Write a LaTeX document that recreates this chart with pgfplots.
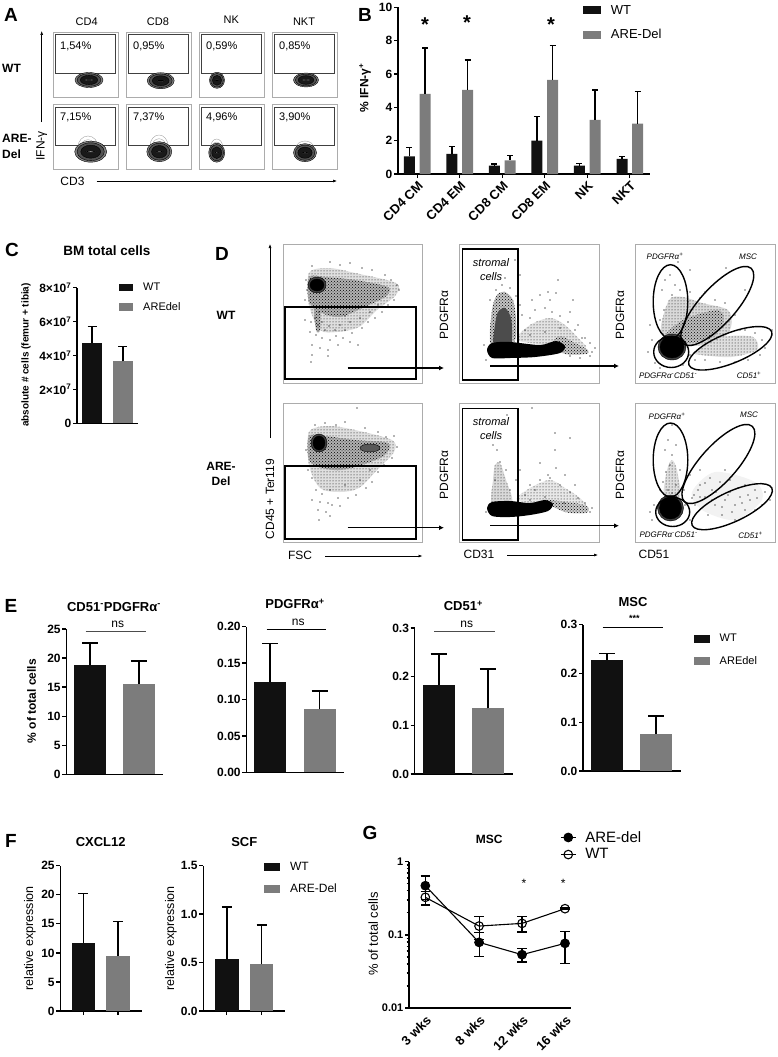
\documentclass[border=0pt]{standalone}
\usepackage{fontspec}
\setmainfont{Liberation Sans}
\usepackage{pgfplots}
\pgfplotsset{compat=1.18}
\usetikzlibrary{arrows.meta,patterns}
\definecolor{wtc}{HTML}{111111}
\definecolor{arec}{HTML}{7C7C7C}
\def\fs#1{\fontsize{#1}{#1}\selectfont}
\newcommand\T[4][]{\node[inner sep=0pt,#1] at (#2pt,-#3pt) {#4};}
\pgfplotsset{
 base/.style={scale only axis,axis lines=left,axis line style={-,line width=1.3pt,black},
  tick style={black,line width=1.3pt},major tick length=4pt,tick align=outside,clip=false,
  scaled y ticks=false,
  ticklabel style={font=\bfseries\fs{12},inner sep=1.5pt},xtick=\empty,
  ybar,/pgf/bar shift=0pt,anchor=south west},
 wt/.style={fill=wtc,draw=none,/pgf/bar shift=0pt},
 are/.style={fill=arec,draw=none,/pgf/bar shift=0pt},
 ebar/.style 2 args={error bars/y dir=plus,error bars/y explicit,
  error bars/error bar style={line width=#1,black},
  error bars/error mark options={black,rotate=90,mark size=#2,line width=#1}},
 sw/.style 2 args={legend image code/.code={\fill[##1] (0pt,-#2) rectangle (#1,#2);}},
 lg/.style={legend cell align=left,legend style={draw=none,fill=none,anchor=north west,inner sep=0pt,outer sep=0pt,column sep=8pt,cells={anchor=west}}},
 flowst/.style={x=1pt,y=1pt,y dir=reverse,xtick=\empty,ytick=\empty,anchor=south west,
  axis line style={draw=gray!65,line width=.8pt},clip=true},
 dots/.style={only marks,mark=*,mark size=.42,mark options={fill=black,draw=none}},
}
\newcommand\FA[4]{\begin{axis}[flowst,at={(#1pt,-#4pt)},xmin=#1,xmax=#3,ymin=#2,ymax=#4]}
\newcommand\lay[6]{\addplot[only marks,mark=*,mark size={#4*#5},mark options={xscale={#3/#4},fill=#6,draw=none}] coordinates {(#1,#2)};}
\newcommand\blob[4]{%
 \lay{#1}{#2}{#3}{#4}{1}{black!50}%
 \lay{#1}{#2}{#3}{#4}{.85}{black!68}%
 \lay{#1}{#2}{#3}{#4}{.62}{black!90}%
 \addplot[only marks,mark=*,mark size={#4*.05},mark options={xscale={6*#3/#4},fill=white,draw=none}] coordinates {(#1,#2)};}
\newcommand\tip[4]{%
 \addplot[only marks,mark=o,mark size=#4,mark options={xscale={#3/#4},draw=gray!80,line width=.35pt}] coordinates {(#1,#2)};
 \addplot[only marks,mark=o,mark size={#4*.8},mark options={xscale={#3/#4},draw=gray!80,line width=.35pt}] coordinates {(#1,#2+1.5)};
 \addplot[only marks,mark=o,mark size={#4*.62},mark options={xscale={#3/#4},draw=gray!80,line width=.35pt}] coordinates {(#1,#2+3)};}
\newcommand\gate[5]{\addplot[only marks,mark=o,mark size=#4,mark options={draw=black,line width=1.4pt,rotate=#5,xscale={#3/#4}}] coordinates {(#1,#2)};}
\newcommand\rgate[4]{\addplot[draw=black,line width=1.5pt,mark=none] coordinates {(#1,#2)(#3,#2)(#3,#4)(#1,#4)} --cycle;}
\newcommand\thin[4]{\addplot[draw=black!75,line width=.7pt,mark=none] coordinates {(#1,#2)(#3,#2)(#3,#4)(#1,#4)} --cycle;}
\newcommand\reg[3][crosshatch dots]{\addplot[fill=#2,draw=none,smooth cycle,mark=none] coordinates {#3};
 \addplot[pattern=#1,pattern color=black,draw=none,smooth cycle,mark=none] coordinates {#3};}
\newcommand\sol[2]{\addplot[fill=#1,draw=none,smooth cycle,mark=none] coordinates {#2};}
\begin{document}
\begin{tikzpicture}[x=1pt,y=1pt]
\path[use as bounding box] (0pt,0pt) rectangle (777pt,-1057pt);
%%%% Panel letters
\T[font=\bfseries\fs{19}]{11}{15}{A}
\T[font=\bfseries\fs{19}]{365}{15}{B}
\T[font=\bfseries\fs{19}]{12}{250}{C}
\T[font=\bfseries\fs{19}]{222}{254}{D}
\T[font=\bfseries\fs{19}]{11}{606}{E}
\T[font=\bfseries\fs{19}]{11}{841}{F}
\T[font=\bfseries\fs{19}]{370}{833}{G}
%%%% Panel A
\T[font=\fs{11}]{86.7}{21.7}{CD4}\T[font=\fs{11}]{158}{21.7}{CD8}\T[font=\fs{11}]{231.3}{20}{NK}\T[font=\fs{11}]{304}{21.7}{NKT}
\T[font=\bfseries\fs{12},anchor=west]{2}{68}{WT}
\T[font=\bfseries\fs{12},anchor=west]{2}{138.5}{ARE-}
\T[font=\bfseries\fs{12},anchor=west]{2}{154.5}{Del}
\T[font=\fs{12},rotate=90]{41.7}{146}{IFN-γ}
\draw[-{Latex[length=4pt,width=3pt]},line width=.6pt] (41.7pt,-122pt) -- (41.7pt,-31pt);
\T[font=\fs{12}]{72.5}{181}{CD3}
\draw[-{Latex[length=4pt,width=3pt]},line width=.6pt] (96.7pt,-181pt) -- (337pt,-181pt);
% WT row
\FA{53.7}{32}{118.3}{97}\thin{55.7}{34.3}{115.7}{73.3}\blob{89}{80}{14}{7.5}\end{axis}
\FA{126.7}{32}{191.3}{97}\thin{128.7}{34.3}{188.7}{73.3}\blob{160.7}{80.7}{13.5}{8}\end{axis}
\FA{199.3}{32}{264.3}{97}\thin{201.3}{34.3}{261.3}{73.3}\blob{217}{80.3}{7.5}{8}\end{axis}
\FA{272.3}{32}{337.3}{97}\thin{274.3}{34.3}{334.3}{73.3}\blob{306}{80}{12.5}{7}\end{axis}
% ARE row
\FA{53.7}{104.7}{118.3}{169.7}\thin{55.7}{107}{115.7}{145.7}\tip{88}{147}{10}{11}\blob{90.7}{151.7}{16}{10.5}\end{axis}
\FA{126.7}{104.7}{191.3}{169.7}\thin{128.7}{107}{188.7}{145.7}\tip{159}{146}{9}{11}\blob{159.3}{151.7}{12.5}{10}\end{axis}
\FA{199.3}{104.7}{264.3}{169.7}\thin{201.3}{107}{261.3}{145.7}\tip{216.7}{147}{6}{8}\blob{216.7}{152.7}{8}{9.5}\end{axis}
\FA{272.3}{104.7}{337.3}{169.7}\thin{274.3}{107}{334.3}{145.7}\tip{305}{148}{9}{7}\blob{305}{152.7}{11.5}{9}\end{axis}
\T[font=\fs{11},anchor=west]{60}{46}{1,54\%}\T[font=\fs{11},anchor=west]{133}{46}{0,95\%}\T[font=\fs{11},anchor=west]{206}{46}{0,59\%}\T[font=\fs{11},anchor=west]{279}{46}{0,85\%}
\T[font=\fs{11},anchor=west]{60}{117.7}{7,15\%}\T[font=\fs{11},anchor=west]{133}{117.7}{7,37\%}\T[font=\fs{11},anchor=west]{206}{117.7}{4,96\%}\T[font=\fs{11},anchor=west]{279}{117}{3,90\%}
%%%% Panel B
\begin{axis}[base,at={(398pt,-174pt)},width=252pt,height=166.7pt,xmin=-0.454,xmax=5.475,ymin=0,ymax=10,
 xtick={0,1,2,3,4,5},xticklabels={CD4 CM,CD4 EM,CD8 CM,CD8 EM,NK,NKT},
 xticklabel style={rotate=45,anchor=north east,font=\bfseries\fs{13}},
 ytick={0,2,4,6,8,10},yticklabels={0,2,4,6,8,10},bar width=11pt,
 lg,legend style={at={(0.734,1.025)},row sep=10pt,font=\fs{13}},sw={18pt}{4pt}]
\addplot[wt,ebar={1.4pt}{3pt}] coordinates {(-0.184,1.05)+-(0,0.55)(0.816,1.2)+-(0,0.45)(1.816,0.5)+-(0,0.1)(2.816,2.0)+-(0,1.45)(3.816,0.5)+-(0,0.12)(4.816,0.9)+-(0,0.15)};
\addplot[are,ebar={1.4pt}{3pt}] coordinates {(0.184,4.8)+-(0,2.75)(1.184,5.05)+-(0,1.8)(2.184,0.82)+-(0,0.28)(3.184,5.65)+-(0,2.05)(4.184,3.25)+-(0,1.8)(5.184,3.02)+-(0,1.93)};
\legend{WT,ARE-Del}
\end{axis}
\T[font=\bfseries\fs{12},rotate=90]{365}{88}{\% IFN-γ\textsuperscript{+}}
\T[font=\bfseries\fs{20}]{425}{25}{*}\T[font=\bfseries\fs{20}]{467}{23}{*}\T[font=\bfseries\fs{20}]{551}{25}{*}
%%%% Panel C
\begin{axis}[base,at={(77pt,-423.3pt)},width=61.3pt,height=135.6pt,xmin=-0.484,xmax=1.494,ymin=0,ymax=8e7,
 ytick={0,2e7,4e7,6e7,8e7},yticklabels={0,2×10\textsuperscript{7},4×10\textsuperscript{7},6×10\textsuperscript{7},8×10\textsuperscript{7}},bar width=20.6pt,
 lg,legend style={at={(0.679,1.05)},row sep=6.5pt,font=\fs{11}},sw={14.6pt}{3.8pt}]
\addplot[wt,ebar={1.4pt}{4.5pt}] coordinates {(0,4.72e7)+-(0,1.0e7)};
\addplot[are,ebar={1.4pt}{4.5pt}] coordinates {(1,3.66e7)+-(0,0.88e7)};
\legend{WT,AREdel}
\end{axis}
\T[font=\bfseries\fs{13.5}]{107}{251}{BM total cells}
\T[font=\bfseries\fs{10},rotate=90]{26}{355}{absolute \# cells (femur + tibia)}
%%%% Panel D labels
\T[font=\bfseries\fs{12}]{226}{315}{WT}\T[font=\bfseries\fs{12}]{221}{466}{ARE-}\T[font=\bfseries\fs{12}]{221}{481}{Del}
\draw[-{Latex[length=4pt,width=3pt]},line width=.6pt] (270pt,-438pt) -- (270pt,-244pt);
\T[font=\fs{12},rotate=90]{270}{499}{CD45 + Ter119}
\T[font=\fs{12}]{300}{555}{FSC}\draw[-{Latex[length=4pt,width=3pt]},line width=.6pt] (325pt,-556pt) -- (422.5pt,-556pt);
\T[font=\fs{12}]{479}{554}{CD31}\draw[-{Latex[length=4pt,width=3pt]},line width=.6pt] (507pt,-555pt) -- (598pt,-555pt);
\T[font=\fs{12}]{654}{554}{CD51}
\T[font=\fs{12},rotate=90]{444}{315}{PDGFRα}\T[font=\fs{12},rotate=90]{444}{475}{PDGFRα}
\T[font=\fs{12},rotate=90]{620}{315}{PDGFRα}\T[font=\fs{12},rotate=90]{620}{475}{PDGFRα}
%%%% D col1 row1
\FA{283}{244}{422.5}{383}
\reg[dots]{gray!25}{(309,273)(329,268)(355,273)(396,283)(396,295)(377,310)(359,327)(337,332)(320,330)(309,305)}
\reg{gray!60}{(309,277)(325,277)(355,280)(388,287)(385,297)(362,308)(340,317)(322,313)(309,302)}
\reg{gray!60}{(314,305)(320,305)(320,330)(316,330)}
\lay{317}{285}{9}{8}{1}{black!75}\lay{317}{285}{7}{6}{1}{black}
\addplot[dots] coordinates {(312,266)(330,262)(340,265)(350,263)(362,268)(372,270)(385,275)(391,280)(397,285)(399,290)(394,300)(388,305)(382,312)(375,318)(368,322)(362,328)(352,333)(345,330)(336,336)(330,340)(322,338)(316,335)(310,332)(312,345)(320,348)(328,350)(338,345)(350,342)(358,345)(305,320)(311,322)(318,325)(315,318)(319,312)(322,322)(325,330)(340,325)(350,322)(360,318)(370,312)(378,305)(305,300)(307,290)(306,280)(312,355)(311,362)(328,356)(343,338)(335,330)(329,326)(345,316)};
\rgate{285}{307}{416}{379}
\end{axis}
%%%% D col1 row2
\FA{283}{403}{422.5}{542}
\reg[dots]{gray!25}{(309,432)(329,426)(355,430)(392,440)(394,452)(377,470)(359,488)(340,492)(320,488)(309,465)}
\reg{gray!60}{(309,436)(325,436)(355,440)(388,443)(385,455)(362,465)(340,470)(322,468)(309,460)}
\lay{319}{443}{8}{9}{1}{black!75}\lay{319}{443}{6}{7}{1}{black}
\lay{370}{448}{10}{4}{1}{black!65}
\addplot[dots] coordinates {(315,425)(325,423)(336,425)(345,422)(357,408)(365,428)(378,432)(386,437)(394,436)(397,447)(392,458)(384,465)(378,472)(372,482)(366,488)(356,495)(348,498)(338,498)(328,503)(320,502)(318,510)(326,512)(332,505)(312,478)(316,490)(322,494)(330,490)(345,485)(360,480)(370,470)(306,450)(308,470)(312,500)(330,516)(319,520)(340,506)};
\rgate{285}{466}{416}{539}
\end{axis}
%%%% D col2 row1
\FA{459.4}{244}{599.3}{383}
\reg[dots]{gray!22}{(517,340)(530,325)(550,318)(565,325)(580,340)(585,348)(550,345)}
\reg{gray!45}{(552,345)(560,336)(575,343)(588,350)(586,354)(565,354)}
\reg{gray!45}{(491,345)(492,310)(497,295)(505,292)(513,300)(516,320)(514,342)}
\sol{black!70}{(494,345)(495,325)(498,312)(505,308)(511,318)(512,335)(510,344)}
\sol{black}{(487,350)(492,343)(510,342)(540,345)(556,341)(565,346)(560,353)(535,357)(510,358)(492,358)}
\addplot[dots] coordinates {(502,285)(496,290)(510,288)(516,296)(520,305)(522,315)(490,300)(525,330)(530,318)(535,310)(545,308)(552,312)(560,316)(568,322)(575,330)(582,338)(590,343)(595,348)(592,352)(585,338)(578,325)(570,312)(550,300)(540,295)(556,293)(558,280)(548,292)(532,300)(520,275)(515,260)(505,278)(573,300)(560,328)(545,332)(530,335)(590,356)(580,358)(570,356)(484,345)(486,360)};
\rgate{462.7}{249}{518}{380}
\end{axis}
%%%% D col2 row2
\FA{459.4}{403}{599.3}{542}
\reg[dots]{gray!18}{(517,500)(530,488)(550,480)(565,488)(580,498)(585,507)(550,505)}
\reg[dots]{gray!30}{(492,505)(493,480)(495,465)(500,463)(506,480)(512,502)}
\reg{gray!40}{(543,500)(575,503)(588,507)(586,513)(565,512)}
\sol{black}{(487,508)(492,502)(510,501)(530,503)(545,500)(553,504)(548,511)(530,515)(510,517)(492,516)}
\addplot[dots] coordinates {(500,462)(497,450)(493,445)(506,470)(510,490)(495,480)(516,480)(525,495)(530,485)(540,480)(550,478)(560,485)(570,492)(578,498)(585,503)(592,508)(590,512)(575,485)(565,475)(556,468)(548,475)(535,490)(520,470)(555,450)(570,438)(540,463)(564,503)(545,497)(530,500)(486,512)(507,415)(532,408)(555,433)};
\rgate{462.7}{408.7}{518}{540}
\end{axis}
%%%% D col3 row1
\FA{635.4}{244}{775}{383}
\reg[dots]{gray!30}{(661,333)(669,300)(683,297)(702,303)(728,310)(731,327)(717,343)(683,345)}
\reg[dots]{gray!25}{(694,352)(724,337)(753,337)(757,350)(731,357)(702,355)}
\reg{gray!50}{(665,337)(683,320)(717,310)(724,320)(713,337)(687,343)}
\lay{672}{347}{14}{13}{1}{black!75}\lay{672}{347}{12}{11}{1}{black}
\addplot[dots] coordinates {(662,290)(665,280)(670,275)(675,285)(672,295)(680,290)(690,292)(700,298)(705,292)(715,300)(725,303)(735,315)(740,330)(745,330)(755,333)(762,340)(765,348)(760,355)(748,360)(735,362)(720,362)(705,360)(695,360)(652,340)(648,352)(655,363)(660,368)(683,365)(690,355)(692,345)(660,320)(664,310)(678,262)(726,268)(690,270)(745,290)(668,340)(772,330)(650,325)};
\gate{670.5}{301.7}{17.3}{37}{0}
\gate{717.3}{306}{50.7}{18}{48}
\gate{730.3}{348.3}{44.6}{15}{22}
\gate{671.2}{352}{17.5}{15.5}{0}
\end{axis}
%%%% D col3 row2
\FA{635.4}{403}{775}{542}
\reg[dots]{gray!25}{(664,497)(667,470)(672,460)(677,470)(680,497)}
\sol{gray!10}{(692,492)(715,472)(755,482)(762,500)(735,520)(702,510)}
\lay{670.5}{508}{13}{13}{1}{black!75}\lay{670.5}{508}{11}{11}{1}{black}
\addplot[dots] coordinates {(668,440)(665,450)(672,455)(676,445)(670,465)(666,472)(680,470)(663,482)(676,485)(684,490)(694,495)(700,485)(710,478)(720,482)(730,480)(745,485)(755,490)(765,492)(770,500)(762,505)(750,500)(745,510)(735,505)(725,500)(715,505)(705,497)(695,505)(685,505)(708,515)(722,515)(735,520)(690,475)(700,470)(654,505)(650,512)(652,520)(690,520)(672,425)(725,470)(740,497)(755,510)(712,490)(730,492)(700,497)(665,497)(672,493)(668,490)(660,490)(705,483)(716,492)(738,488)(748,495)(722,507)(732,512)(742,503)(698,490)(692,498)(757,498)(728,495)(712,500)};
\gate{670.5}{460}{17.3}{37}{0}
\gate{718.4}{464}{50.7}{18}{48}
\gate{732}{506.7}{44}{15}{25}
\gate{672.7}{512}{17}{14.5}{0}
\end{axis}
% D arrows and texts
\draw[-{Latex[length=5pt,width=5pt]},line width=1.3pt] (347.6pt,-368pt) -- (444pt,-368pt);
\draw[-{Latex[length=5pt,width=5pt]},line width=1.3pt] (347.6pt,-527.7pt) -- (444pt,-527.7pt);
\draw[-{Latex[length=5pt,width=5pt]},line width=1.3pt] (490pt,-366pt) -- (619pt,-366pt);
\draw[-{Latex[length=5pt,width=5pt]},line width=1.3pt] (490pt,-525.7pt) -- (619pt,-525.7pt);
\T[font=\itshape\fs{11}]{491}{262.7}{stromal}\T[font=\itshape\fs{11}]{491}{276.7}{cells}
\T[font=\itshape\fs{11}]{491}{422}{stromal}\T[font=\itshape\fs{11}]{491}{436}{cells}
\T[font=\itshape\fs{8}]{665}{256.7}{PDGFRα\textsuperscript{+}}\T[font=\itshape\fs{8}]{748}{256.7}{MSC}
\T[font=\itshape\fs{8}]{668}{376}{PDGFRα\textsuperscript{-}CD51\textsuperscript{-}}\T[font=\itshape\fs{8}]{749}{375}{CD51\textsuperscript{+}}
\T[font=\itshape\fs{8}]{667}{416}{PDGFRα\textsuperscript{+}}\T[font=\itshape\fs{8}]{749}{415}{MSC}
\T[font=\itshape\fs{8}]{668.6}{535}{PDGFRα\textsuperscript{-}CD51\textsuperscript{-}}\T[font=\itshape\fs{8}]{750.5}{535}{CD51\textsuperscript{+}}
%%%% Panel E
\begin{axis}[base,at={(66.3pt,-774.3pt)},width=97pt,height=145.3pt,xmin=-0.486,xmax=1.502,ymin=0,ymax=25,
 ytick={0,5,10,15,20,25},yticklabels={0,5,10,15,20,25},bar width=32pt]
\addplot[wt,ebar={1.8pt}{8pt}] coordinates {(0,18.87)+-(0,3.78)};
\addplot[are,ebar={1.8pt}{8pt}] coordinates {(1,15.6)+-(0,3.95)};
\end{axis}
\begin{axis}[base,at={(246.3pt,-772.3pt)},width=98pt,height=145.6pt,xmin=-0.486,xmax=1.502,ymin=0,ymax=0.2,
 ytick={0,0.05,0.1,0.15,0.2},yticklabels={0.00,0.05,0.10,0.15,0.20},bar width=32pt]
\addplot[wt,ebar={1.8pt}{8pt}] coordinates {(0,0.1245)+-(0,0.0525)};
\addplot[are,ebar={1.8pt}{8pt}] coordinates {(1,0.0865)+-(0,0.0255)};
\end{axis}
\begin{axis}[base,at={(414.7pt,-774pt)},width=98pt,height=146pt,xmin=-0.486,xmax=1.502,ymin=0,ymax=0.3,
 ytick={0,0.1,0.2,0.3},yticklabels={0.0,0.1,0.2,0.3},bar width=32pt]
\addplot[wt,ebar={1.8pt}{8pt}] coordinates {(0,0.1836)+-(0,0.0624)};
\addplot[are,ebar={1.8pt}{8pt}] coordinates {(1,0.135)+-(0,0.08)};
\end{axis}
\begin{axis}[base,at={(583pt,-771pt)},width=98pt,height=146.3pt,xmin=-0.486,xmax=1.502,ymin=0,ymax=0.3,
 ytick={0,0.1,0.2,0.3},yticklabels={0.0,0.1,0.2,0.3},bar width=32pt,
 lg,legend style={at={(1.133,0.95)},row sep=9pt,font=\fs{11}},sw={15.7pt}{4pt}]
\addplot[wt,ebar={1.8pt}{8pt}] coordinates {(0,0.228)+-(0,0.013)};
\addplot[are,ebar={1.8pt}{8pt}] coordinates {(1,0.0765)+-(0,0.037)};
\legend{WT,AREdel}
\end{axis}
\T[font=\bfseries\fs{13}]{114}{606.7}{CD51\textsuperscript{-}PDGFRα\textsuperscript{-}}
\T[font=\bfseries\fs{13}]{295}{604}{PDGFRα\textsuperscript{+}}
\T[font=\bfseries\fs{13}]{463.3}{606}{CD51\textsuperscript{+}}
\T[font=\bfseries\fs{13}]{633}{602}{MSC}
\T[font=\bfseries\fs{12},rotate=90]{31.7}{701}{\% of total cells}
\draw[line width=.7pt,black!70] (85.7pt,-631.7pt) -- (145.7pt,-631.7pt);
\draw[line width=.7pt] (266.7pt,-629.3pt) -- (326pt,-629.3pt);
\draw[line width=.7pt,black!70] (434.3pt,-631pt) -- (494.7pt,-631pt);
\draw[line width=.7pt] (602.7pt,-627.3pt) -- (662.7pt,-627.3pt);
\T[font=\fs{12}]{117.7}{624}{ns}\T[font=\fs{12}]{298.3}{622}{ns}\T[font=\fs{12}]{466.7}{624}{ns}
\T[font=\bfseries\fs{9}]{634.3}{618}{***}
%%%% Panel F
\begin{axis}[base,at={(60.3pt,-1011pt)},width=81.4pt,height=145.3pt,xmin=-0.663,xmax=1.683,ymin=0,ymax=25,
 xtick={0,1},xticklabels={,},ytick={0,5,10,15,20,25},yticklabels={0,5,10,15,20,25},bar width=23.5pt]
\addplot[wt,ebar={1.4pt}{5pt}] coordinates {(0,11.75)+-(0,8.45)};
\addplot[are,ebar={1.4pt}{5pt}] coordinates {(1,9.52)+-(0,5.85)};
\end{axis}
\begin{axis}[base,at={(203.3pt,-1011pt)},width=81.7pt,height=145.3pt,xmin=-0.677,xmax=1.677,ymin=0,ymax=1.5,
 xtick={0,1},xticklabels={,},ytick={0,0.5,1,1.5},yticklabels={0.0,0.5,1.0,1.5},bar width=23.5pt,
 lg,legend style={at={(0.745,1.04)},row sep=8pt,font=\fs{12}},sw={16pt}{4pt}]
\addplot[wt,ebar={1.4pt}{5pt}] coordinates {(0,0.54)+-(0,0.533)};
\addplot[are,ebar={1.4pt}{5pt}] coordinates {(1,0.482)+-(0,0.406)};
\legend{WT,ARE-Del}
\end{axis}
\T[font=\bfseries\fs{13}]{100.7}{841.7}{CXCL12}\T[font=\bfseries\fs{13}]{244.3}{841.7}{SCF}
\T[font=\fs{12.5},rotate=90]{30}{938.3}{relative expression}\T[font=\fs{12.5},rotate=90]{171}{938.3}{relative expression}
%%%% Panel G
\begin{axis}[scale only axis,anchor=south west,at={(409pt,-1008pt)},width=161.7pt,height=146.3pt,
 axis lines=left,axis line style={-,line width=1.3pt,black},tick style={black,line width=1.3pt},tick align=outside,clip=false,
 ymode=log,xmin=1.48,xmax=16.53,ymin=0.01,ymax=1,major tick length=4pt,minor tick length=2.5pt,
 ytick={0.01,0.1,1},yticklabels={0.01,0.1,1},
 minor ytick={0.02,0.03,0.04,0.05,0.06,0.07,0.08,0.09,0.2,0.3,0.4,0.5,0.6,0.7,0.8,0.9},
 xtick={3,8,12,16},xticklabels={3 wks,8 wks,12 wks,16 wks},x tick style={draw=none},
 yticklabel style={font=\bfseries\fs{11},inner sep=1.5pt},
 xticklabel style={rotate=45,anchor=north east,font=\bfseries\fs{13},inner sep=1.5pt},
 legend cell align=left,legend style={draw=none,fill=none,anchor=north west,inner sep=0pt,at={(0.934,1.223)},row sep=1pt,column sep=7pt,font=\fs{15},cells={anchor=west}},
 legend image code/.code={\draw[mark repeat=2,mark phase=2,#1] plot coordinates {(0pt,0pt)(7.5pt,0pt)(15pt,0pt)};}]
\addplot[black,line width=1.1pt,mark=*,mark size=4.3,mark options={fill=black},error bars/y dir=both,error bars/y explicit,error bars/error bar style={line width=1.1pt,black},error bars/error mark options={black,rotate=90,mark size=4.7,line width=1.1pt}]
 coordinates {(3,0.47)+-(0,0.167)(8,0.079)+-(0,0.0287)(12,0.0536)+-(0,0.011)(16,0.0766)+-(0,0.036)};
\addplot[black,line width=1.1pt,mark=o,mark size=4.3,error bars/y dir=both,error bars/y explicit,error bars/error bar style={line width=1.1pt,black},error bars/error mark options={black,rotate=90,mark size=4.7,line width=1.1pt}]
 coordinates {(3,0.326)+-(0,0.07)(8,0.132)+-(0,0.045)(12,0.1435)+-(0,0.034)(16,0.228)+-(0,0.005)};
\legend{ARE-del,WT}
\end{axis}
\T[font=\bfseries\fs{12}]{489.3}{839.3}{MSC}
\T[font=\fs{13},rotate=90]{373.3}{934}{\% of total cells}
\T[font=\fs{12}]{524}{883}{*}\T[font=\fs{12}]{563.3}{883}{*}
\end{tikzpicture}
\end{document}
